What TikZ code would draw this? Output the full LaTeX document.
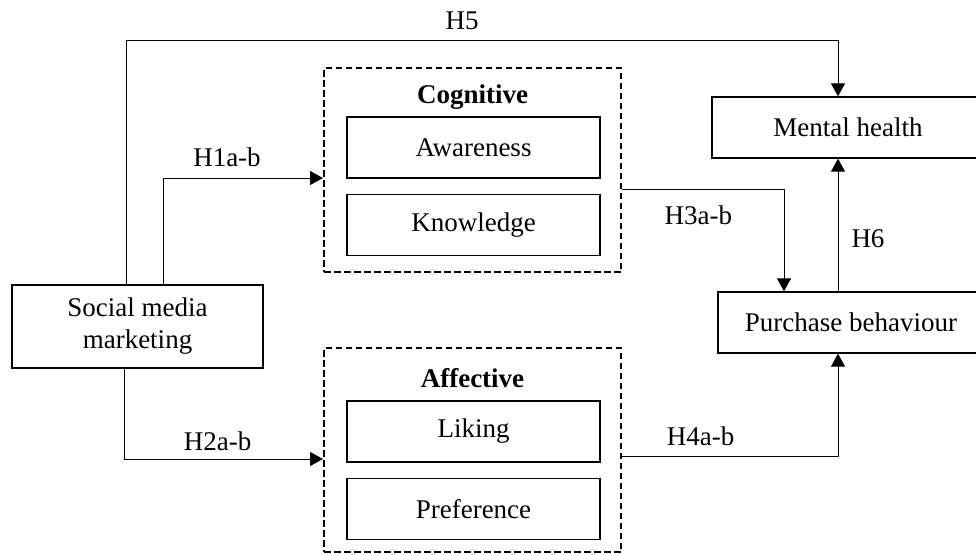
\documentclass[tikz,border=0pt]{standalone}
\usepackage{fontspec}
\setmainfont{Liberation Serif}
\usetikzlibrary{arrows.meta, positioning}

\begin{document}
\begin{tikzpicture}[
  x=0.5pt, y=-0.5pt,
  font=\fontsize{13.5}{16}\selectfont,
  block/.style = {draw, line width=0.65pt, minimum height=30.5pt, inner sep=0pt, align=center},
  group/.style = {draw, line width=1pt, dash pattern=on 3.25pt off 1.75pt, minimum width=148.5pt, minimum height=102pt},
  arrow/.style = {line width=0.5pt, -{Triangle[length=6.5pt, width=7pt]}},
  hyp/.style = {inner sep=0pt}
]
  \useasboundingbox (0,0) rectangle (976,554);

  % Social media marketing
  \node[block, minimum width=125.5pt, minimum height=41.5pt] (social) at (137.5,326.5) {Social media\\marketing};

  % Cognitive group
  \node[group] (cog) at (472.5,170) {};
  \node[hyp, font=\fontsize{13.5}{16}\selectfont\bfseries] (coglabel) at (472.5,97) {Cognitive};
  \node[block, minimum width=126.5pt] (awareness) at (473.5,147.5) {Awareness};
  \node[block, minimum width=126.5pt, below=7.5pt of awareness] (knowledge) {Knowledge};

  % Affective group
  \node[group] (aff) at (472.5,450) {};
  \node[hyp, font=\fontsize{13.5}{16}\selectfont\bfseries] (afflabel) at (472.5,378) {Affective};
  \node[block, minimum width=126.5pt] (liking) at (473.5,431.5) {Liking};
  \node[block, minimum width=126.5pt, below=7.5pt of liking] (preference) {Preference};

  % Outcomes
  \node[block, minimum width=136pt] (mental) at (848,127.5) {Mental health};
  \node[block, minimum width=133pt] (purchase) at (851,322.5) {Purchase behaviour};

  % H5: social media -> mental health
  \draw[arrow] ([xshift=-5.75pt]social.north) -- ++(0,-244)
    -| node[hyp, pos=0.236, above=5pt] {H5} ([xshift=-5pt]mental.north);

  % H1a-b: social media -> cognitive
  \draw[arrow] ([xshift=12.75pt]social.north)
    |- node[hyp, pos=0.7, above=5.5pt] {H1a-b} ([yshift=-4pt]cog.west);

  % H2a-b: social media -> affective
  \draw[arrow] ([xshift=-6.75pt]social.south)
    |- node[hyp, pos=0.735, above=4pt] {H2a-b} ([yshift=-4.5pt]aff.west);

  % H3a-b: cognitive -> purchase behaviour
  \draw[arrow] ([yshift=-9.5pt]cog.east)
    -| node[hyp, pos=0.236, below=8pt] {H3a-b} ([xshift=-33.5pt]purchase.north);

  % H4a-b: affective -> purchase behaviour
  \draw[arrow] ([yshift=-3pt]aff.east)
    -| node[hyp, pos=0.182, above=5pt] {H4a-b} ([xshift=-6.5pt]purchase.south);

  % H6: purchase behaviour -> mental health
  \draw[arrow] ([xshift=-6.5pt]purchase.north)
    -- node[hyp, pos=0.4, right=6.5pt] {H6} ([xshift=-5pt]mental.south);

\end{tikzpicture}
\end{document}
